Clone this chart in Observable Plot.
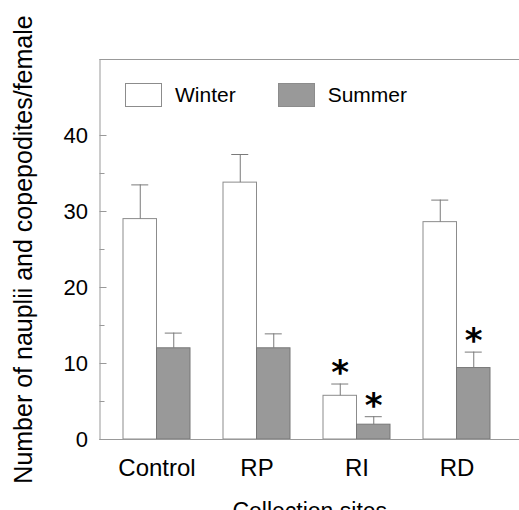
<!DOCTYPE html>
<html><head><meta charset="utf-8">
<script src="https://cdn.jsdelivr.net/npm/d3@7"></script>
<script src="https://cdn.jsdelivr.net/npm/@observablehq/plot@0.6"></script>
<style>
body{margin:0;background:#fff;font-family:Arial,"Liberation Sans",sans-serif;}
#wrap{position:relative;width:519px;height:510px;overflow:hidden;}
.legend{position:absolute;top:83px;left:125px;display:flex;align-items:center;font-size:21px;color:#000;}
.sw{width:35px;height:22px;border:1px solid #8c8c8c;display:inline-block;}
.lab{margin-left:13px;margin-right:42px;line-height:24px;}
</style></head>
<body><div id="wrap"></div>
<script>
const sites = ["Control", "RP", "RI", "RD"];
const seasons = ["Winter", "Summer"];
const winterMean = [29, 33.8, 5.75, 28.6];
const winterErr = [4.5, 3.7, 1.55, 2.9];
const summerMean = [12, 12, 1.95, 9.4];
const summerErr = [2.0, 1.9, 1.05, 2.1];
const winterSig = [false, false, true, false];
const summerSig = [false, false, true, true];
const majorTicks = [0, 10, 20, 30, 40];
const minorTicks = [5, 15, 25, 35];

const winter = sites.map((s, i) => ({site: s, mean: winterMean[i], err: winterErr[i], sig: winterSig[i]}));
const summer = sites.map((s, i) => ({site: s, mean: summerMean[i], err: summerErr[i], sig: summerSig[i]}));
const errTop = d => d.mean + d.err;
const half = 33.5, off = 16.75, capIn = 8.25, capOut = 41.75;
const errStroke = "#7a7a7a";

const chart = Plot.plot({
  width: 519, height: 510,
  marginLeft: 99.5, marginRight: 0, marginTop: 59, marginBottom: 71,
  style: {fontFamily: "Arial, 'Liberation Sans', sans-serif", color: "#000", background: "#fff"},
  x: {domain: sites, paddingInner: 0.335, paddingOuter: 0.25, align: 0.437},
  y: {domain: [0, 50]},
  marks: [
    Plot.barY(winter, {x: "site", y: "mean", fill: "white", stroke: "#8c8c8c", insetRight: half}),
    Plot.barY(summer, {x: "site", y: "mean", fill: "#999999", stroke: "#777777", insetLeft: half}),
    Plot.ruleX(winter, {x: "site", y1: "mean", y2: errTop, dx: -off, stroke: errStroke}),
    Plot.ruleX(summer, {x: "site", y1: "mean", y2: errTop, dx: off, stroke: errStroke}),
    Plot.tickY(winter, {x: "site", y: errTop, insetLeft: capIn, insetRight: capOut, stroke: errStroke}),
    Plot.tickY(summer, {x: "site", y: errTop, insetLeft: capOut, insetRight: capIn, stroke: errStroke}),
    Plot.text(winter.filter(d => d.sig), {x: "site", y: errTop, dx: -off, dy: -11, text: () => "*", fontSize: 34, fontWeight: "bold", fontFamily: "DejaVu Sans", fill: "#000"}),
    Plot.text(summer.filter(d => d.sig), {x: "site", y: errTop, dx: off, dy: -11, text: () => "*", fontSize: 34, fontWeight: "bold", fontFamily: "DejaVu Sans", fill: "#000"}),
    Plot.frame({anchor: "left", stroke: "#999"}),
    Plot.frame({anchor: "top", stroke: "#999"}),
    Plot.frame({anchor: "bottom", stroke: "#999"}),
    Plot.axisY({ticks: majorTicks, tickSize: -7, tickPadding: 19, fontSize: 22, stroke: "#999", strokeOpacity: 1, label: null}),
    Plot.axisY({ticks: minorTicks, tickSize: -5, tickFormat: () => "", stroke: "#999", strokeOpacity: 1, label: null}),
    Plot.axisY({ticks: [], label: "Number of nauplii and copepodites/female", labelAnchor: "center", labelOffset: 86, labelArrow: "none", fontSize: 25}),
    Plot.axisX({tickSize: 0, tickPadding: 19, fontSize: 24, label: null}),
    Plot.axisX({ticks: [], label: "Collection sites", labelAnchor: "center", labelOffset: 79, labelArrow: "none", fontSize: 23})
  ]
});
const wrap = document.getElementById("wrap");
wrap.appendChild(chart);
chart.style.position = "absolute"; chart.style.left = "0"; chart.style.top = "0"; chart.style.overflow = "visible";
const leg = document.createElement("div");
leg.className = "legend";
const fills = {Winter: "#fff", Summer: "#999"};
seasons.forEach(s => {
  const sw = document.createElement("span"); sw.className = "sw"; sw.style.background = fills[s];
  const t = document.createElement("span"); t.className = "lab"; t.textContent = s;
  leg.appendChild(sw); leg.appendChild(t);
});
wrap.appendChild(leg);
</script></body></html>
